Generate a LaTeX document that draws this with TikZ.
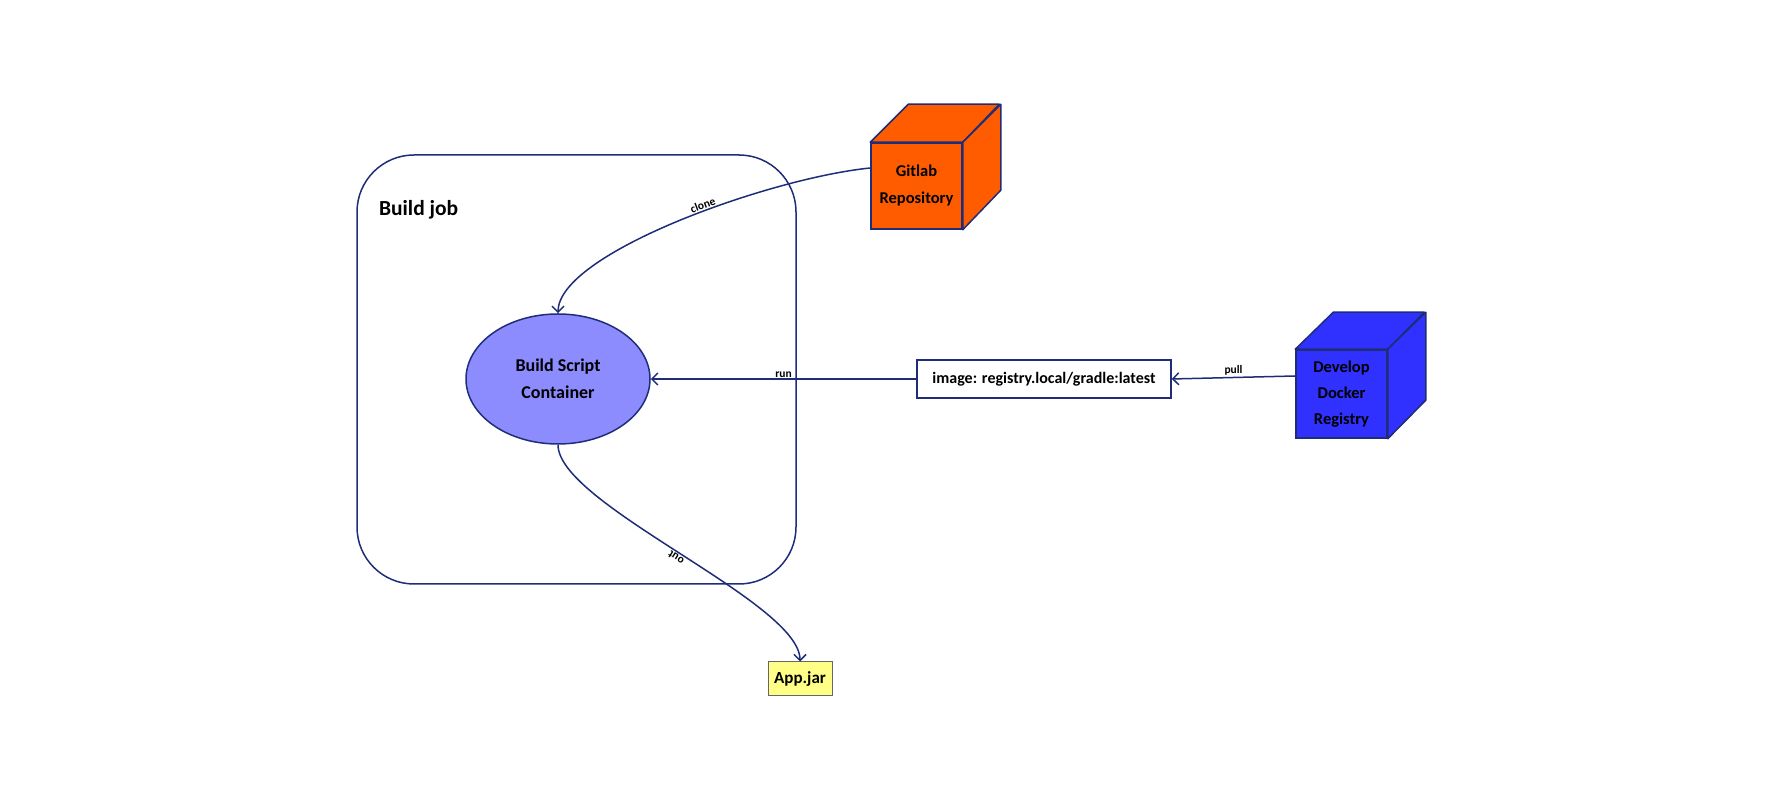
\documentclass[tikz,border=0pt]{standalone}
\usepackage{fontspec}
\setmainfont{Carlito}
\usetikzlibrary{positioning,shapes.geometric,arrows.meta}

\definecolor{edgenavy}{HTML}{1F2D78}
\definecolor{gitorange}{HTML}{FF5C00}
\definecolor{dockerblue}{HTML}{3030FF}
\definecolor{scriptblue}{HTML}{8C8CFF}
\definecolor{jaryellow}{HTML}{FFFF88}

\begin{document}
\begin{tikzpicture}[x=1pt,y=1pt,line width=1.5pt,
  jobbox/.style={draw=edgenavy,rounded corners=57pt,inner sep=0pt},
  script/.style={ellipse,draw=edgenavy,fill=scriptblue,minimum width=184pt,minimum height=130pt,
    inner sep=0pt,align=center,font=\fontsize{18}{27}\selectfont\bfseries},
  cubefront/.style={draw=edgenavy,minimum width=91pt,inner sep=0pt,align=center,
    font=\fontsize{16.5}{27}\selectfont\bfseries},
  cubeface/.style={draw=edgenavy,line join=round},
  imgbox/.style={draw=edgenavy,fill=white,minimum width=254pt,minimum height=38pt,inner sep=0pt,
    font=\fontsize{16}{18}\selectfont\bfseries},
  jar/.style={draw=black!60,line width=1pt,fill=jaryellow,minimum width=64pt,minimum height=34pt,
    inner sep=0pt,font=\fontsize{17}{19}\selectfont\bfseries},
  flow/.style={draw=edgenavy,-{Straight Barb[length=6pt,width=12pt]}},
  lbl/.style={font=\fontsize{11.5}{12}\selectfont\bfseries,inner sep=1pt}]
  \useasboundingbox (0,0) rectangle (1790,794);

  % build job frame
  \node[jobbox,minimum width=439pt,minimum height=429pt] (job) at (576.5,424.5) {};
  \node[anchor=west,font=\fontsize{21.5}{23}\selectfont\bfseries] (jobtitle) at (375,584) {Build job};
  \node[script] (build) at (558,415) {Build Script\\Container};

  % gitlab cube
  \node[cubefront,fill=gitorange,minimum height=86pt] (git) at (916.5,608) {Gitlab\\Repository};
  \filldraw[cubeface,fill=gitorange] (git.north west) -- ++(38,38) -- ++(91,0) -- (git.north east) -- cycle;
  \filldraw[cubeface,fill=gitorange] (git.north east) -- ++(38,38) -- ++(0,-86) -- (git.south east) -- cycle;

  % registry cube
  \node[imgbox] (image) at (1044,415) {image: registry.local/gradle:latest};
  \node[cubefront,fill=dockerblue,minimum height=88pt,font=\fontsize{16.5}{26}\selectfont\bfseries]
    (docker) at (1341.5,400) {Develop\\Docker\\Registry};
  \filldraw[cubeface,fill=dockerblue] (docker.north west) -- ++(38,37) -- ++(91,0) -- (docker.north east) -- cycle;
  \filldraw[cubeface,fill=dockerblue] (docker.north east) -- ++(38,37) -- ++(0,-88) -- (docker.south east) -- cycle;

  \node[jar] (jar) at (800,115) {App.jar};

  % connectors
  \draw[flow] ([yshift=18pt]git.west) .. controls +(-100,-10) and +(0,60) ..
    node[lbl,pos=.43,sloped,above] {clone} (build.north);
  \draw[flow] (image.west) -- node[lbl,above] {run} (build.east);
  \draw[flow] ([yshift=18pt]docker.west) -- node[lbl,above] {pull} (image.east);
  \draw[flow] (build.south) .. controls +(0,-60) and +(0,60) ..
    node[lbl,pos=.5,rotate=147,anchor=south] {out} (jar.north);
\end{tikzpicture}
\end{document}
